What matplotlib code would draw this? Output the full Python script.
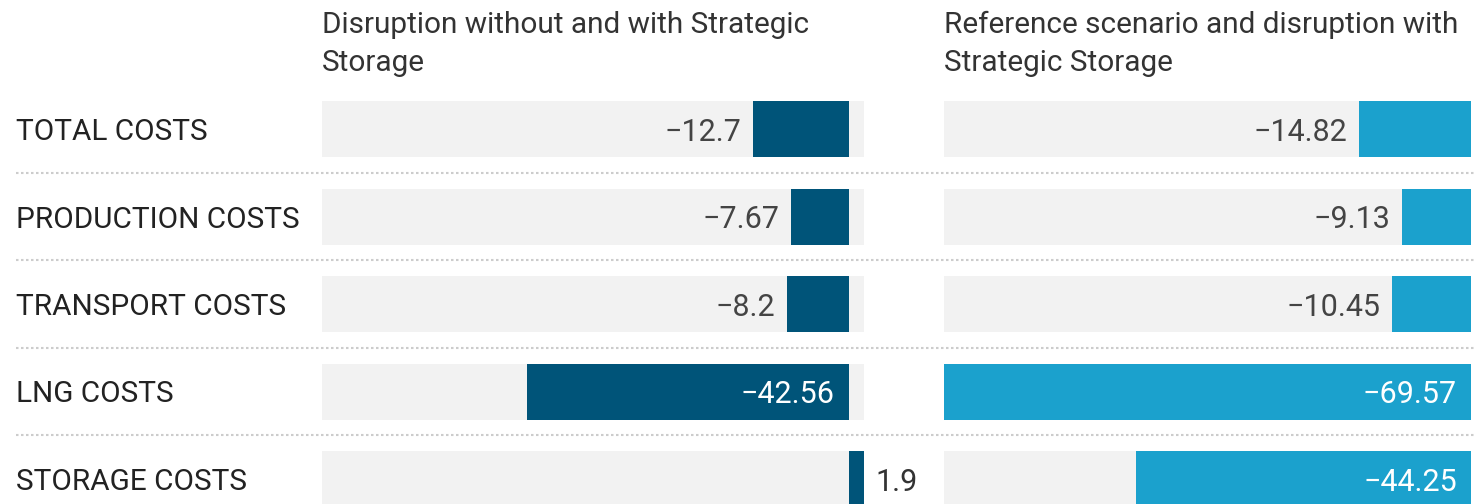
import matplotlib
matplotlib.use("Agg")
import matplotlib.pyplot as plt
from matplotlib.lines import Line2D

plt.rcParams['font.family'] = ['Roboto', 'DejaVu Sans']

# data
categories = ["TOTAL COSTS", "PRODUCTION COSTS", "TRANSPORT COSTS", "LNG COSTS", "STORAGE COSTS"]
panel_titles = ["Disruption without and with Strategic\nStorage",
                "Reference scenario and disruption with\nStrategic Storage"]
disruption_vals = [-12.7, -7.67, -8.2, -42.56, 1.9]
reference_vals = [-14.82, -9.13, -10.45, -69.57, -44.25]
panel_colors = ["#005479", "#1ba1cd"]

W, H = 1474, 504
fig = plt.figure(figsize=(W / 100, H / 100), dpi=100)

row_px = 87.5
first_row_px = 129
bar_h = 56 / row_px
fs = 21.4      # labels / titles
fs_val = 22    # bar values
base_off = 11.5 / row_px   # baseline sits below row centre

# axes vertical geometry (pixel from top)
ax_top_px = first_row_px - row_px / 2
ybot = (H - first_row_px) / row_px
ax_h = (H - ax_top_px) / H

px_per_unit = 7.58
xmin = min(min(disruption_vals), min(reference_vals))


def fmt(v):
    s = ("%g" % abs(v))
    return ("\u2212" + s) if v < 0 else s


def draw_panel(left_px, vals, color, title):
    xmax = max(0, max(vals))
    width_px = (xmax - xmin) * px_per_unit
    ax = fig.add_axes([left_px / W, 0, width_px / W, ax_h])
    ax.set_xlim(xmin, xmax)
    ax.set_ylim(ybot, -0.5)
    ax.axis('off')
    ys = list(range(len(vals)))
    ax.barh(ys, [xmax - xmin] * len(vals), left=xmin, height=bar_h, color="#f2f2f2")
    ax.barh(ys, vals, height=bar_h, color=color)
    pad = 12 / px_per_unit
    for y, v in zip(ys, vals):
        yb = y + base_off
        if v >= 0:
            ax.text(v + pad, yb, fmt(v), ha='left', va='baseline', fontsize=fs_val, color="#333333")
        elif abs(v) * px_per_unit > 200:
            ax.text(-pad * 1.2, yb, fmt(v), ha='right', va='baseline', fontsize=fs_val, color="white")
        else:
            ax.text(v - pad, yb, fmt(v), ha='right', va='baseline', fontsize=fs_val, color="#444444")
    fig.text(left_px / W, 1 - 11 / H, title, ha='left', va='top', fontsize=fs,
             color="#333333", linespacing=1.46)


draw_panel(322, disruption_vals, panel_colors[0], panel_titles[0])
draw_panel(944, reference_vals, panel_colors[1], panel_titles[1])

# row labels and dotted separators
for i, cat in enumerate(categories):
    yb = 1 - (first_row_px + i * row_px + 11) / H
    fig.text(16 / W, yb, cat, ha='left', va='baseline', fontsize=fs, color="#222222")
    if i < len(categories) - 1:
        ys = 1 - (first_row_px + (i + 0.5) * row_px) / H
        fig.add_artist(Line2D([16 / W, 1], [ys, ys], transform=fig.transFigure,
                              color="#cccccc", lw=1.5, linestyle=(0, (1.2, 1.2))))

fig.savefig("out.png", dpi=100)
